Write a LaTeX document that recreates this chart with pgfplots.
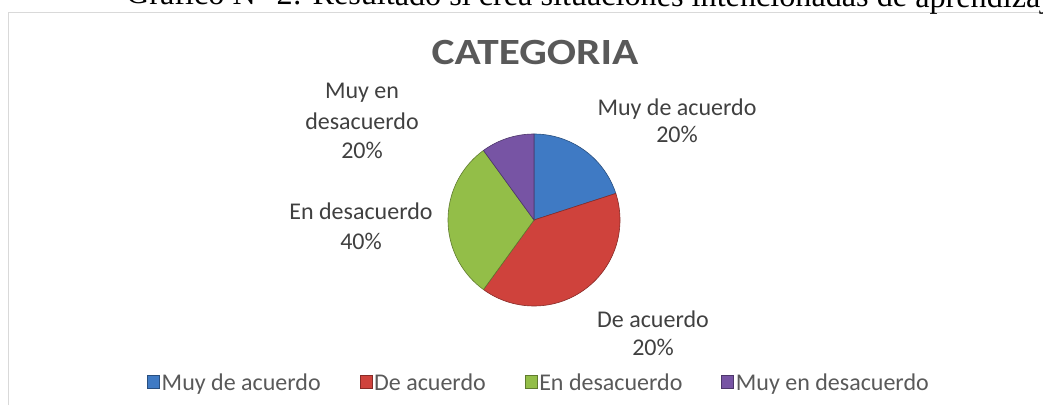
\documentclass[border=0pt]{standalone}
\usepackage{pgfplots}
\usepackage{pgfplotstable}
\pgfplotsset{compat=1.18}
\usepackage{fontspec}
\setmainfont{Carlito}
\newfontfamily\tnr{Liberation Serif}
\definecolor{cBlue}{HTML}{3F7AC4}
\definecolor{cRed}{HTML}{CF423C}
\definecolor{cGreen}{HTML}{93BE48}
\definecolor{cPurple}{HTML}{7754A4}
\definecolor{txtA}{HTML}{404040}
\definecolor{txtB}{HTML}{595959}
\definecolor{frame}{HTML}{D9D9D9}

\pgfplotstableread{
cat value
1 20
2 40
3 30
4 10
}\piedata

\begin{document}%
\begin{tikzpicture}
\pgfplotstablegetelem{0}{value}\of\piedata \let\vA\pgfplotsretval
\pgfplotstablegetelem{1}{value}\of\piedata \let\vB\pgfplotsretval
\pgfplotstablegetelem{2}{value}\of\piedata \let\vC\pgfplotsretval
\pgfplotstablegetelem{3}{value}\of\piedata \let\vD\pgfplotsretval
\pgfmathsetmacro\aZ{90}
\pgfmathsetmacro\aA{\aZ-3.6*\vA}
\pgfmathsetmacro\aB{\aA-3.6*\vB}
\pgfmathsetmacro\aC{\aB-3.6*\vC}
\pgfmathsetmacro\aD{\aC-3.6*\vD}
\begin{axis}[
  at={(0,0)}, anchor=south west,
  scale only axis, width=1043pt, height=405pt,
  xmin=0, xmax=1043, ymin=0, ymax=405,
  hide axis, clip=false,
  legend columns=4,
  legend style={draw=none, fill=none, at={(0.5168,0.054)}, anchor=center,
    font=\fontsize{24}{27}\selectfont\color{txtB},
    nodes={inner xsep=2pt, inner ysep=1pt},
    /tikz/every even column/.append style={column sep=37pt}},
  legend image code/.code={\draw[#1, line width=0.5pt] (0pt,-5pt) rectangle (12pt,8pt);},
]
\addplot[fill=cBlue, draw=cBlue!65!black, line width=0.6pt, domain=\aA:\aZ, samples=60, variable=\t]
  ({534+86*cos(\t)},{185+86*sin(\t)}) -- (axis cs:534,185) -- cycle;
\addlegendentry{Muy de acuerdo}
\addplot[fill=cRed, draw=cRed!65!black, line width=0.6pt, domain=\aB:\aA, samples=80, variable=\t]
  ({534+86*cos(\t)},{185+86*sin(\t)}) -- (axis cs:534,185) -- cycle;
\addlegendentry{De acuerdo}
\addplot[fill=cGreen, draw=cGreen!65!black, line width=0.6pt, domain=\aC:\aB, samples=60, variable=\t]
  ({534+86*cos(\t)},{185+86*sin(\t)}) -- (axis cs:534,185) -- cycle;
\addlegendentry{En desacuerdo}
\addplot[fill=cPurple, draw=cPurple!65!black, line width=0.6pt, domain=\aD:\aC, samples=30, variable=\t]
  ({534+86*cos(\t)},{185+86*sin(\t)}) -- (axis cs:534,185) -- cycle;
\addlegendentry{Muy en desacuerdo}

% frame
\draw[frame, line width=1.5pt] (axis cs:8.7,0) -- (axis cs:8.7,392.3) -- (axis cs:1043,392.3);
% header text
\node[anchor=base west, inner sep=0pt, rotate=-0.22, font=\tnr\fontsize{32.2}{36}\selectfont] at (axis cs:126,401) {Gráfico N° 2: Resultado si crea situaciones intencionadas de aprendizaje};
% title
\node[anchor=base, inner sep=0pt, font=\bfseries\fontsize{37}{40}\selectfont, text=txtB] at (axis cs:535,340) {\scalebox{1.17}[1]{CATEGORIA}};
% data labels
\begin{scope}[every node/.style={anchor=base, inner sep=0pt, font=\fontsize{24}{27}\selectfont, text=txtA}]
\node at (axis cs:677,290) {Muy de acuerdo};
\node at (axis cs:677,262) {20\%};
\node at (axis cs:653,78) {De acuerdo};
\node at (axis cs:653,50) {20\%};
\node at (axis cs:361,186) {En desacuerdo};
\node at (axis cs:361,156) {40\%};
\node at (axis cs:362,306) {Muy en};
\node at (axis cs:362,276) {desacuerdo};
\node at (axis cs:362,247) {20\%};
\end{scope}
\end{axis}
\pgfresetboundingbox
\path[use as bounding box] (0,0) rectangle (1043pt,405pt);
\end{tikzpicture}%
\end{document}
